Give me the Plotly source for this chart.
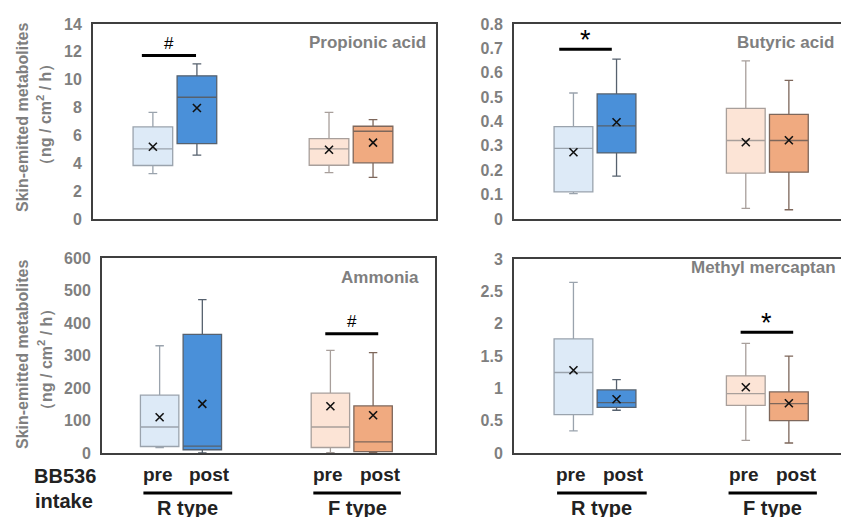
import plotly.graph_objects as go

W, H = 841, 517

# ---------------- data ----------------
positions = [0, 1, 4, 5]            # pre R, post R, pre F, post F
tick_text = ["pre", "post", "pre", "post"]
group_labels = ["R type", "F type"]
panel_titles = ["Propionic acid", "Butyric acid", "Ammonia", "Methyl mercaptan"]

prop_upper = [7.65, 11.13, 7.65, 7.14]
prop_q3 = [6.61, 10.28, 5.77, 6.66]
prop_median = [5.04, 8.74, 5.04, 6.30]
prop_q1 = [3.84, 5.41, 3.86, 4.03]
prop_lower = [3.26, 4.59, 3.33, 2.99]
prop_mean = [5.19, 7.97, 4.97, 5.48]

but_upper = [0.517, 0.656, 0.649, 0.569]
but_q3 = [0.379, 0.513, 0.454, 0.429]
but_median = [0.290, 0.382, 0.322, 0.322]
but_q1 = [0.111, 0.271, 0.188, 0.192]
but_lower = [0.104, 0.176, 0.044, 0.038]
but_mean = [0.274, 0.397, 0.315, 0.323]

amm_upper = [330, 472, 316, 309]
amm_q3 = [178, 365, 184, 145]
amm_median = [80, 21, 80, 34]
amm_q1 = [20, 10, 17, 4]
amm_lower = [17, 0, 1, 2]
amm_mean = [110, 151, 144, 116]

mm_upper = [2.64, 1.136, 1.694, 1.497]
mm_q3 = [1.766, 0.976, 1.193, 0.945]
mm_median = [1.245, 0.780, 0.919, 0.764]
mm_q1 = [0.594, 0.707, 0.738, 0.501]
mm_lower = [0.341, 0.661, 0.196, 0.155]
mm_mean = [1.28, 0.831, 1.017, 0.77]

# significance marks: panel index, x0, x1, y, label
sig_panel = [0, 1, 2, 3]
sig_x0 = [-0.25, -0.33, 3.88, 3.88]
sig_x1 = [0.98, 0.89, 5.12, 5.10]
sig_y = [11.73, 0.696, 367, 1.869]
sig_label = ["#", "*", "#", "*"]

y_ranges = [[0, 14], [0, 0.8], [0, 600], [0, 3]]
y_dticks = [2, 0.1, 100, 0.5]

# ---------------- style ----------------
fills = ["#DDEAF7", "#4A90D9", "#FCE4D6", "#F0AA80"]
edges = ["#9AA3AD", "#56616E", "#A89F9B", "#7E675B"]
GRAY = "#7F7F7F"
BORDER = "#3F3F3F"
FONT = "Liberation Sans"
label_dx = [-0.05, 0.17, -0.05, 0.17]   # nudges of pre/post labels


def px(x):
    return x / W


def py(y):
    return 1 - y / H


# plot areas in pixels: (left, right, top, bottom)
areas = [(93, 436, 24, 219), (514, 841, 24, 219),
         (102, 435, 258, 453), (514, 841, 259, 453)]
# x ranges in data units (so that box centres line up)
x_ranges = [[-1.36, 6.43], [-1.38, 6.21], [-1.35, 6.45], [-1.38, 6.21]]

stats = [
    (prop_upper, prop_q3, prop_median, prop_q1, prop_lower, prop_mean),
    (but_upper, but_q3, but_median, but_q1, but_lower, but_mean),
    (amm_upper, amm_q3, amm_median, amm_q1, amm_lower, amm_mean),
    (mm_upper, mm_q3, mm_median, mm_q1, mm_lower, mm_mean),
]

fig = go.Figure()
for p, (up, q3, med, q1, lo, mean) in enumerate(stats):
    xa = "x" if p == 0 else f"x{p + 1}"
    ya = "y" if p == 0 else f"y{p + 1}"
    for i in range(4):
        fig.add_trace(go.Box(
            x=[positions[i]], q1=[q1[i]], median=[med[i]], q3=[q3[i]],
            lowerfence=[lo[i]], upperfence=[up[i]],
            width=0.9, whiskerwidth=0.22,
            fillcolor=fills[i], line=dict(color=edges[i], width=1.3),
            boxpoints=False, showlegend=False, hoverinfo="skip",
            xaxis=xa, yaxis=ya))
    fig.add_trace(go.Scatter(
        x=positions, y=mean, mode="markers",
        marker=dict(symbol="x-thin", size=8, line=dict(color="#111111", width=1.6)),
        showlegend=False, hoverinfo="skip", xaxis=xa, yaxis=ya))

layout = dict(width=W, height=H, margin=dict(l=0, r=0, t=0, b=0, pad=0),
              paper_bgcolor="white", plot_bgcolor="white", showlegend=False,
              template="none")

for p in range(4):
    l, r, t, b = areas[p]
    sx = "" if p == 0 else str(p + 1)
    layout["xaxis" + sx] = dict(
        domain=[px(l), min(px(r), 1.0)], range=x_ranges[p], automargin=False,
        anchor="y" + sx, showgrid=False, zeroline=False,
        showline=True, linecolor=BORDER, linewidth=2, mirror=True,
        tickvals=positions, ticks="", showticklabels=False)
    layout["yaxis" + sx] = dict(
        domain=[py(b), py(t)], range=y_ranges[p], dtick=y_dticks[p], automargin=False,
        anchor="x" + sx, showgrid=False, zeroline=False,
        showline=True, linecolor=BORDER, linewidth=2, mirror=(p % 2 == 0),
        ticks="", ticklabelstandoff=6,
        tickfont=dict(family=FONT, size=16, color=GRAY, weight="bold"))

fig.update_layout(**layout)

# significance bars and labels
for k in range(len(sig_panel)):
    p = sig_panel[k]
    sx = "" if p == 0 else str(p + 1)
    fig.add_shape(type="line", xref="x" + sx, yref="y" + sx,
                  x0=sig_x0[k], x1=sig_x1[k], y0=sig_y[k], y1=sig_y[k],
                  line=dict(color="black", width=3))
    big = sig_label[k] == "*"
    fig.add_annotation(xref="x" + sx, yref="y" + sx,
                       x=(sig_x0[k] + sig_x1[k]) / 2, y=sig_y[k],
                       text=sig_label[k], showarrow=False, yanchor="bottom",
                       xanchor="center", yshift=(-8 if big else 1),
                       font=dict(family=FONT, size=(27 if big else 17), color="black"))

# panel titles
title_pos = [(428, 42), (836, 42), (421, 277), (838, 267)]
for p in range(4):
    x, y = title_pos[p]
    fig.add_annotation(xref="paper", yref="paper", x=px(x), y=py(y),
                       xanchor="right", yanchor="middle", showarrow=False,
                       text=panel_titles[p],
                       font=dict(family=FONT, size=17, color=GRAY, weight="bold"))

# y-axis titles (left column)
for (x1, y1, x2, y2) in [(22, 118, 45, 115), (22, 355, 45, 360)]:
    fig.add_annotation(xref="paper", yref="paper", x=px(x1), y=py(y1),
                       xanchor="center", yanchor="middle",
                       textangle=-90, showarrow=False,
                       text="Skin-emitted metabolites",
                       font=dict(family=FONT, size=16, color=GRAY, weight="bold"))
    fig.add_annotation(xref="paper", yref="paper", x=px(x2), y=py(y2),
                       xanchor="center", yanchor="middle",
                       textangle=-90, showarrow=False,
                       text="（ng / cm<sup>2</sup> / h）",
                       font=dict(family=FONT, size=16, color=GRAY, weight="bold"))

# pre/post labels, group underlines and labels below the bottom panels
for sx in ["3", "4"]:
    for i in range(4):
        fig.add_annotation(xref="x" + sx, yref="paper", x=positions[i] + label_dx[i],
                           y=py(474), xanchor="center", yanchor="middle",
                           showarrow=False, text=tick_text[i],
                           font=dict(family=FONT, size=19, color="#222222", weight="bold"))
    for g, (x0, x1) in enumerate([(-0.38, 1.7), (3.6, 5.65)]):
        fig.add_shape(type="line", xref="x" + sx, yref="paper",
                      x0=x0, x1=x1, y0=py(493), y1=py(493),
                      line=dict(color="black", width=3))
        fig.add_annotation(xref="x" + sx, yref="paper", x=(x0 + x1) / 2,
                           y=py(508), xanchor="center", yanchor="middle",
                           showarrow=False, text=group_labels[g],
                           font=dict(family=FONT, size=20, color="#222222", weight="bold"))

fig.add_annotation(xref="paper", yref="paper", x=px(65), y=py(476),
                   xanchor="center", yanchor="middle",
                   showarrow=False, text="BB536",
                   font=dict(family=FONT, size=20, color="#222222", weight="bold"))
fig.add_annotation(xref="paper", yref="paper", x=px(64), y=py(501),
                   xanchor="center", yanchor="middle",
                   showarrow=False, text="intake",
                   font=dict(family=FONT, size=20, color="#222222", weight="bold"))

fig.write_html("out.html", config={"displayModeBar": False},
               post_script="document.body.style.margin='0';"
                           "document.body.style.overflow='hidden';")
